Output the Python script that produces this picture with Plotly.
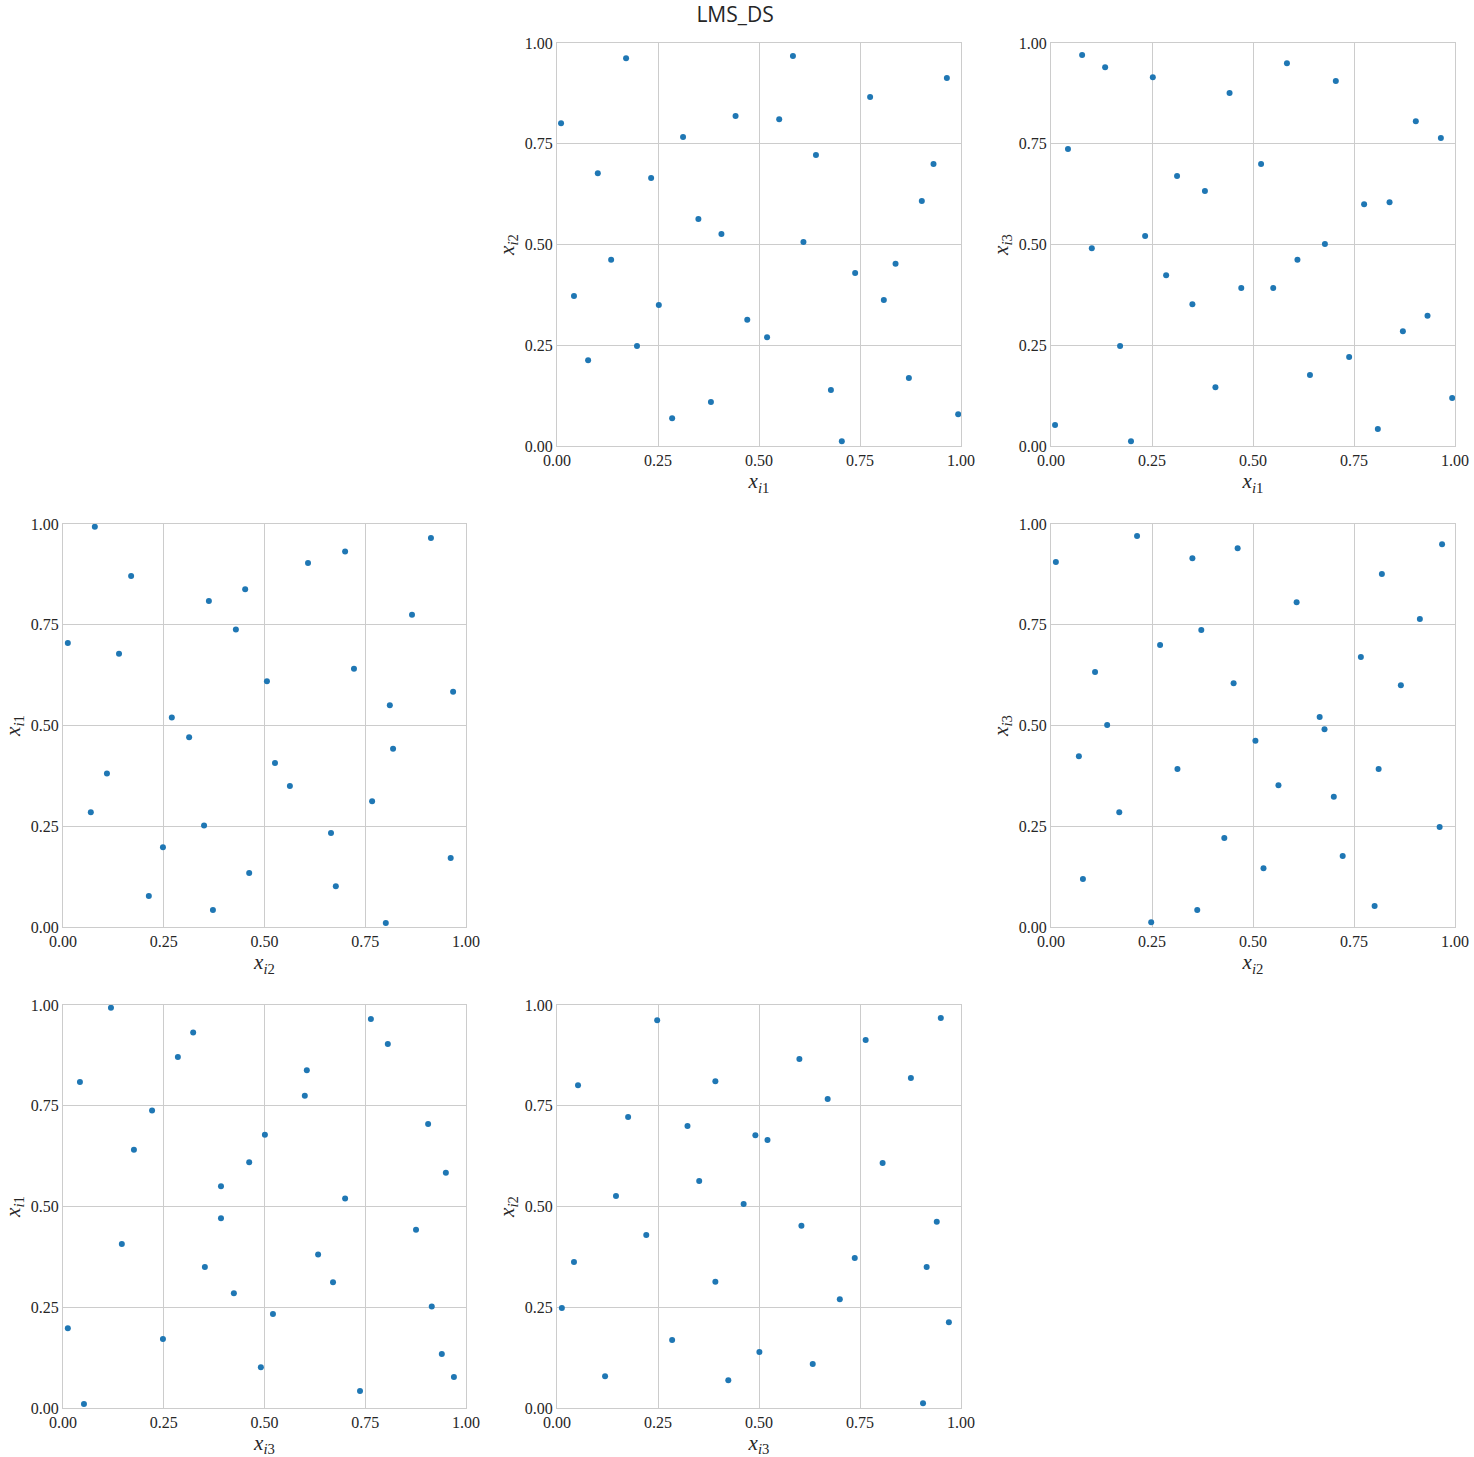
import plotly.graph_objects as go

# Design points (three coordinates per sample)
x1 = [0.010, 0.042, 0.077, 0.101, 0.134, 0.171, 0.198, 0.233, 0.252, 0.285, 0.312,
      0.350, 0.381, 0.407, 0.442, 0.471, 0.520, 0.550, 0.584, 0.610, 0.641, 0.678,
      0.705, 0.738, 0.775, 0.809, 0.838, 0.871, 0.903, 0.932, 0.965, 0.993]
x2 = [0.801, 0.372, 0.213, 0.677, 0.462, 0.962, 0.248, 0.665, 0.350, 0.069, 0.767,
      0.563, 0.109, 0.526, 0.819, 0.313, 0.270, 0.811, 0.968, 0.506, 0.722, 0.139,
      0.012, 0.429, 0.866, 0.362, 0.452, 0.169, 0.608, 0.700, 0.913, 0.079]
x3 = [0.052, 0.737, 0.970, 0.491, 0.940, 0.248, 0.012, 0.521, 0.915, 0.424, 0.670,
      0.352, 0.633, 0.146, 0.876, 0.392, 0.700, 0.392, 0.950, 0.462, 0.176, 0.501,
      0.906, 0.221, 0.600, 0.042, 0.605, 0.285, 0.806, 0.323, 0.764, 0.119]

tick_vals = [0.0, 0.25, 0.5, 0.75, 1.0]
tick_text = ["0.00", "0.25", "0.50", "0.75", "1.00"]

W, H = 1474, 1457
col_px = [(63, 466), (557, 961), (1051, 1455)]
row_px = [(43, 446), (524, 927), (1005, 1408)]

data = {1: x1, 2: x2, 3: x3}
label = {k: f"<i>x</i><sub><i>i</i>{k}</sub>" for k in (1, 2, 3)}

# (row, col, x variable, y variable) for each off-diagonal panel
panels = [
    (0, 1, 1, 2), (0, 2, 1, 3),
    (1, 0, 2, 1), (1, 2, 2, 3),
    (2, 0, 3, 1), (2, 1, 3, 2),
]

fig = go.Figure()
layout = {}
grid_col = "#cccccc"
serif = "Liberation Serif"
tick_font = dict(family=serif, size=16, color="#262626")
lab_font = dict(family=serif, size=21, color="#262626")

for i, (r, c, vx, vy) in enumerate(panels, start=1):
    xa = "x" if i == 1 else f"x{i}"
    ya = "y" if i == 1 else f"y{i}"
    fig.add_trace(go.Scatter(
        x=data[vx], y=data[vy], mode="markers",
        marker=dict(color="#1f77b4", size=6),
        xaxis=xa, yaxis=ya, showlegend=False, cliponaxis=False,
    ))
    x0, x1p = col_px[c]
    y0, y1p = row_px[r]
    common = dict(
        range=[0, 1], tickvals=tick_vals, ticktext=tick_text,
        showgrid=True, gridcolor=grid_col, gridwidth=1,
        showline=True, linecolor=grid_col, linewidth=1, mirror=True,
        zeroline=False, ticks="", tickfont=tick_font, fixedrange=True,
        automargin=False,
    )
    layout["xaxis" if i == 1 else f"xaxis{i}"] = dict(
        common, domain=[x0 / W, x1p / W], anchor=ya,
        title=dict(text=label[vx], font=lab_font, standoff=4),
    )
    layout["yaxis" if i == 1 else f"yaxis{i}"] = dict(
        common, domain=[1 - y1p / H, 1 - y0 / H], anchor=xa,
        title=dict(text=label[vy], font=lab_font, standoff=4),
    )

fig.update_layout(
    **layout,
    width=W, height=H,
    margin=dict(l=0, r=0, t=0, b=0, autoexpand=False),
    paper_bgcolor="white", plot_bgcolor="white",
    font=dict(family=serif, color="#262626"),
    title=dict(text="LMS_DS", x=0.4987, xanchor="center", y=1 - 15 / H, yanchor="middle",
               automargin=False,
               font=dict(family="Open Sans", size=21, color="#262626")),
)

fig.write_html("out.html")
